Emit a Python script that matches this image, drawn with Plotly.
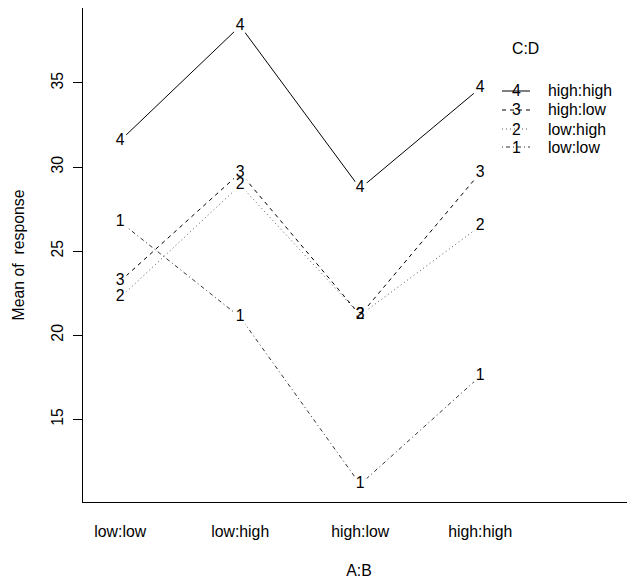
import plotly.graph_objects as go

# ---- data ----
ab_levels = ["low:low", "low:high", "high:low", "high:high"]
cd_levels = ["high:high", "high:low", "low:high", "low:low"]
cd_codes = ["4", "3", "2", "1"]
mean_hh = [31.57, 38.39, 28.73, 34.70]
mean_hl = [23.21, 29.66, 21.19, 29.66]
mean_lh = [22.24, 28.93, 21.19, 26.49]
mean_ll = [26.74, 21.07, 11.13, 17.56]
y_ticks = [15, 20, 25, 30, 35]

series = [mean_hh, mean_hl, mean_lh, mean_ll]
dashes = ["solid", "4px,4px", "1px,3px", "1px,3px,4px,3px"]
line_colors = ["#000000", "#000000", "#555555", "#333333"]

FONT = "Liberation Sans, Arial, Helvetica, sans-serif"
FS = 15.8
OFF = 8  # page body margin
W, H = 635 - OFF, 579 - OFF
ML, MR, MT, MB = 83 - OFF, 0, 0, 77
PW, PH = W - ML - MR, H - MT - MB

xpos = [i + 1 for i in range(len(ab_levels))]

fig = go.Figure()

# lines
for vals, name, dash, col in zip(series, cd_levels, dashes, line_colors):
    fig.add_trace(go.Scatter(x=xpos, y=vals, mode="lines", name=name,
                             line=dict(color=col, width=1, dash=dash),
                             showlegend=False, hoverinfo="skip"))
# white gaps around points
for vals in series:
    fig.add_trace(go.Scatter(x=xpos, y=vals, mode="markers",
                             marker=dict(color="white", size=17, line=dict(width=0)),
                             showlegend=False, hoverinfo="skip"))
# point labels
for vals, code, name in zip(series, cd_codes, cd_levels):
    fig.add_trace(go.Scatter(x=xpos, y=vals, mode="text", name=name,
                             text=[code] * len(vals), textposition="middle center",
                             textfont=dict(family=FONT, size=FS, color="black"),
                             showlegend=False))

# ---- manual legend (layout positions given in page pixels) ----
def px(xp):
    return (xp - OFF - ML) / PW

def py(yp):
    return (H - MB - (yp - OFF)) / PH

shapes = []
annotations = []
annotations.append(dict(x=px(525), y=py(49), xref="paper", yref="paper",
                        text="C:D", showarrow=False, xanchor="center", yanchor="middle",
                        font=dict(family=FONT, size=FS, color="black")))
row_y = [91, 110, 129, 147]
for ry, code, name, dash, col in zip(row_y, cd_codes, cd_levels, dashes, line_colors):
    shapes.append(dict(type="line", xref="paper", yref="paper",
                       x0=px(502), x1=px(530), y0=py(ry), y1=py(ry),
                       line=dict(color=col, width=1, dash=dash)))
    annotations.append(dict(x=px(516), y=py(ry), xref="paper", yref="paper",
                            text=code, showarrow=False, xanchor="center", yanchor="middle",
                            font=dict(family=FONT, size=FS, color="black")))
    annotations.append(dict(x=px(546), y=py(ry), xref="paper", yref="paper",
                            text=name, showarrow=False, xanchor="left", yanchor="middle",
                            font=dict(family=FONT, size=FS, color="black")))

fig.update_layout(
    width=W, height=H,
    margin=dict(l=ML, r=MR, t=MT, b=MB, pad=0),
    paper_bgcolor="white", plot_bgcolor="white",
    font=dict(family=FONT, size=FS, color="black"),
    showlegend=False,
    shapes=shapes, annotations=annotations,
    xaxis=dict(range=[0.69, 0.69 + PW / 120.0], tickvals=xpos, ticktext=ab_levels,
               showline=True, mirror=True, linecolor="black", linewidth=1,
               ticks="", showgrid=False, zeroline=False,
               ticklabelstandoff=15,
               title=dict(text="A:B", standoff=27, font=dict(family=FONT, size=FS))),
    yaxis=dict(range=[10.08, 39.46], tickvals=y_ticks, tickangle=-90,
               showline=True, mirror=False, linecolor="black", linewidth=1,
               ticks="outside", ticklen=9, tickcolor="black", tickwidth=1,
               showgrid=False, zeroline=False, ticklabelstandoff=4,
               title=dict(text="Mean of\u00a0 response", standoff=20,
                          font=dict(family=FONT, size=FS))),
)

fig.write_html("out.html")
